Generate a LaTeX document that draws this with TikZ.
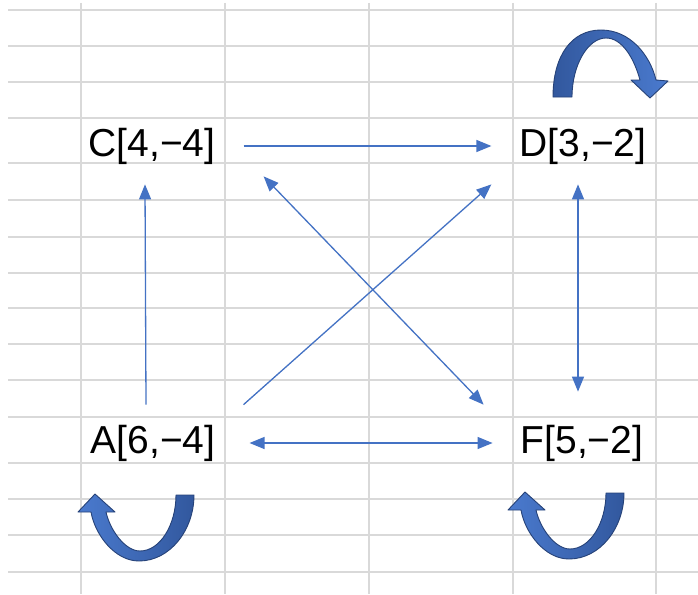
\documentclass[tikz,border=0pt]{standalone}
\usepackage{fontspec}
\setmainfont{Liberation Sans}
\usetikzlibrary{arrows.meta}

\definecolor{gridgray}{RGB}{217,217,217}
\definecolor{lineblue}{RGB}{68,114,196}
\definecolor{shapeblue}{RGB}{74,122,206}
\definecolor{shapedark}{RGB}{50,88,158}
\definecolor{shapeedge}{RGB}{38,66,120}

\begin{document}
\begin{tikzpicture}[x=1pt, y=-1pt,
			gridline/.style={draw=gridgray, line width=1.6pt},
			vertex/.style={inner xsep=28pt, inner ysep=20pt, font=\fontsize{39}{40}\selectfont},
			link/.style={draw=lineblue, line width=1.3pt, >={Triangle[length=15pt,width=12pt]}},
			blockarrow/.style={draw=shapeedge, line width=0.9pt, line join=round},
			uturn/.pic={
				\path[blockarrow, left color=shapeblue, right color=shapedark]
					(194,495) .. controls (194,530) and (170,561) .. (139,561)
					.. controls (115,561) and (95,535) .. (91,512)
					-- (78,512) -- (95,494) -- (115,512) -- (106,512)
					.. controls (110,530) and (125,551) .. (140,551)
					.. controls (160,551) and (176,525) .. (176,495) -- cycle;
			},
		]
		\fill[white] (0,0) rectangle (698,594);
		\useasboundingbox (0,0) rectangle (698,594);

		% sheet grid
		\foreach \gx in {81,225,369,513,656}
			\draw[gridline] (\gx,3) -- (\gx,594);
		\foreach \gy in {10,46,82,118,163,200,237,273,308,344,380,417,463,499,535,572}
			\draw[gridline] (8,\gy) -- (698,\gy);

		\node[vertex] (C) at (152,146) {C[4,−4]};
		\node[vertex] (D) at (583,146) {D[3,−2]};
		\node[vertex] (A) at (153,443) {A[6,−4]};
		\node[vertex] (F) at (582,443) {F[5,−2]};

		\draw[link, ->] (C.east) -- (D.west);
		\draw[link, ->] ([xshift=-7pt]A.north) -- ([xshift=-7pt]C.south);
		\draw[link, ->] (A.north east) -- (D.south west);
		\draw[link, <->] ([xshift=20pt,yshift=8pt]C.south east) -- ([xshift=-9pt]F.north west);
		\draw[link, <->] ([xshift=-5pt]D.south) -- ([xshift=-4pt,yshift=13pt]F.north);
		\draw[link, <->] ([xshift=6pt]A.east) -- (F.west);

		% self loops
		\path[blockarrow, left color=shapedark, right color=shapeblue]
			(553,97) .. controls (553,55) and (572,30) .. (601,30)
			.. controls (630,30) and (650,55) .. (656,80)
			-- (668,81) -- (650,98) -- (631,80) -- (640,80)
			.. controls (634,58) and (622,38) .. (606,38)
			.. controls (588,38) and (572,65) .. (572,97) -- cycle;
		\pic at (0,0) {uturn};
		\pic at (430,-2) {uturn};
	\end{tikzpicture}
\end{document}
